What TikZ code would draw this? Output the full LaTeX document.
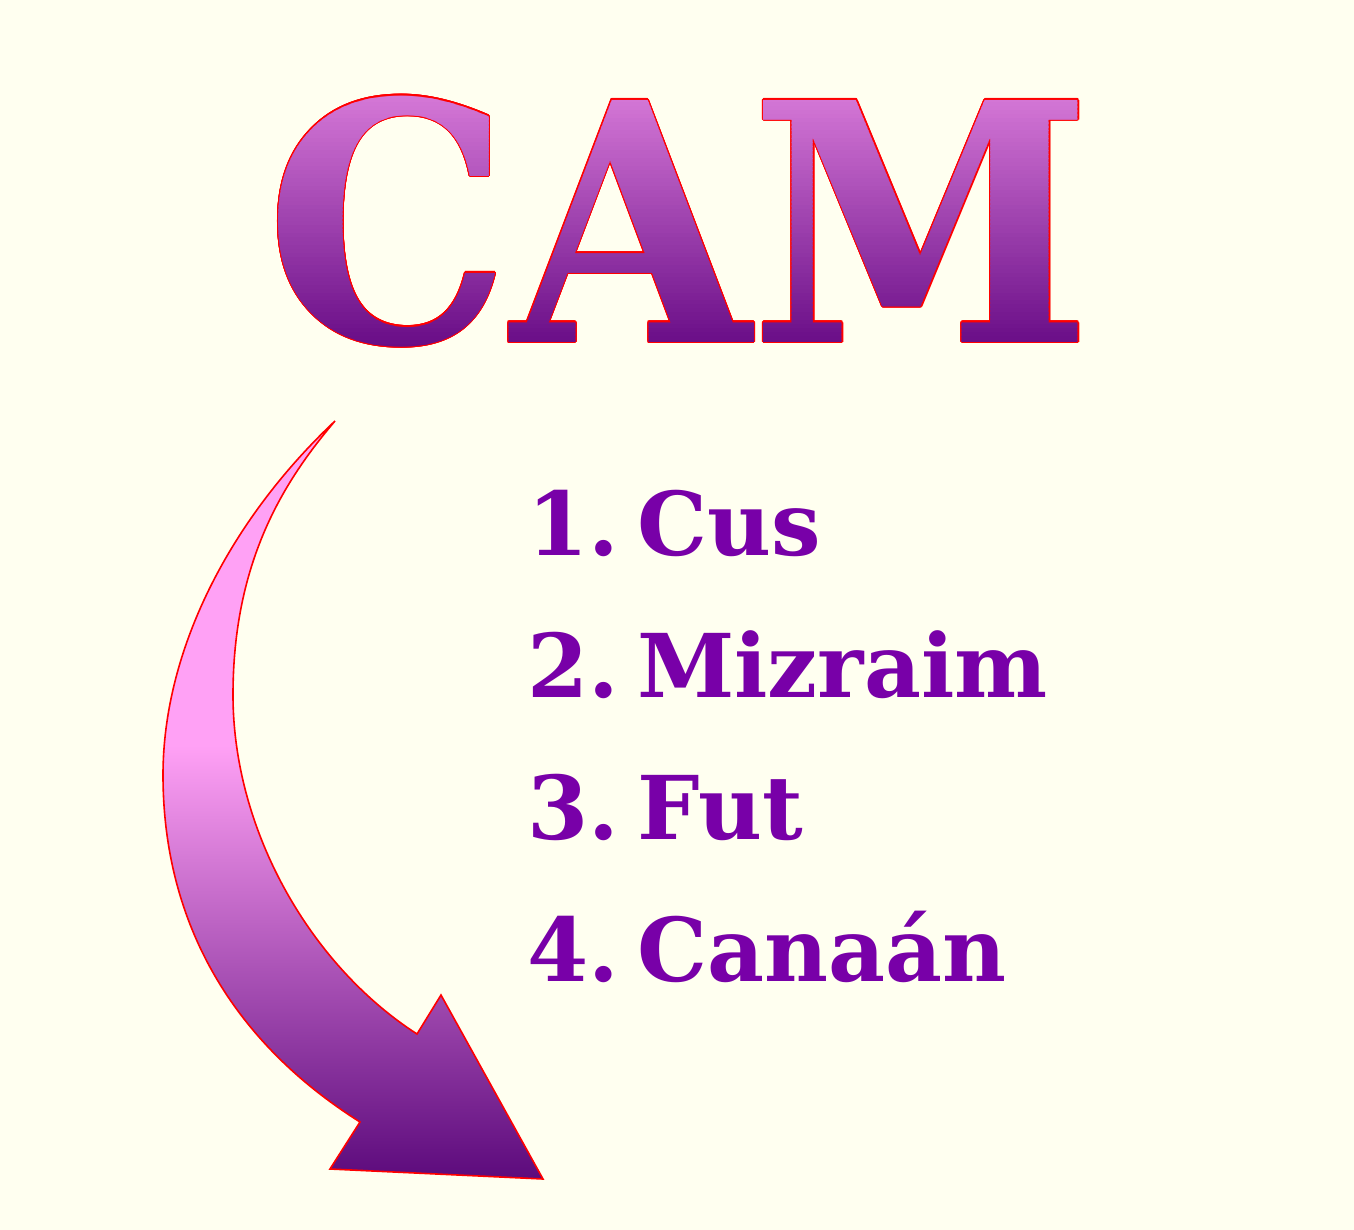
\documentclass[tikz,border=0pt]{standalone}
\usepackage{fontspec}
\newfontfamily\camfont{DejaVu Serif}[FakeStretch=0.93]
\newfontfamily\listfont{DejaVu Serif}[WordSpace=0.25]
\definecolor{bg}{HTML}{FFFFF0}
\definecolor{listpurple}{HTML}{7800A8}
\definecolor{camtop}{HTML}{D477D6}
\definecolor{cambot}{HTML}{680C86}
\definecolor{arrowpink}{HTML}{FFA1F5}
\definecolor{arrowdark}{HTML}{5C0A7C}
\newcommand\camsize{\fontsize{166}{170}\selectfont}
\pgfdeclareverticalshading{arrowshade}{100bp}{color(0bp)=(arrowdark); color(25bp)=(arrowdark); color(53.6bp)=(arrowpink); color(100bp)=(arrowpink)}
\begin{document}
\begin{tikzpicture}[x=0.5pt,y=0.5pt,
  listitem/.style={anchor=base west, inner sep=0, text=listpurple, font=\listfont\bfseries\fontsize{44}{48}\selectfont},
  camtext/.style={anchor=base, inner sep=0, font=\camfont\bfseries\camsize},
  arrowshape/.style={shading=arrowshade, draw=red, line width=0.8pt, line join=miter}]
\fill[bg] (0,0) rectangle (1354,-1230);
\useasboundingbox (0,0) rectangle (1354,-1230);
% title: red outline
\foreach \a [count=\k] in {0,22.5,...,337.5}
  \node[camtext, text=red, shift={(\a:0.6pt)}] (camo\k) at (679,-342) {CAM};
% title: vertical gradient fill, drawn in thin horizontal bands
\foreach \i in {0,...,63}{
  \pgfmathsetmacro\ya{(\i==0)?-60:(-95-\i*3.96)}
  \pgfmathsetmacro\yb{(\i==63)?-400:(-95-\i*3.96-4.3)}
  \pgfmathtruncatemacro\pct{100*\i/63}
  \begin{scope}
    \clip (240,\ya) rectangle (1120,\yb);
    \node[camtext, text=cambot!\pct!camtop] (cam\i) at (679,-342) {CAM};
  \end{scope}
}
% arrow
\shadedraw[arrowshape]
  (335,-421) .. controls (230,-520) and (163,-650) .. (163,-775)
  .. controls (163,-920) and (230,-1040) .. (360,-1122)
  -- (330,-1169) -- (543,-1179) -- (441,-995) -- (417,-1034)
  .. controls (310,-965) and (233,-830) .. (233,-695)
  .. controls (233,-560) and (285,-480) .. (335,-421) -- cycle;
% list
\node[listitem] (l1) at (527,-555) {1. Cus};
\node[listitem] (l2) at (527,-697) {2. Mizraim};
\node[listitem] (l3) at (527,-839) {3. Fut};
\node[listitem] (l4) at (527,-981) {4. Canaán};
\end{tikzpicture}
\end{document}
